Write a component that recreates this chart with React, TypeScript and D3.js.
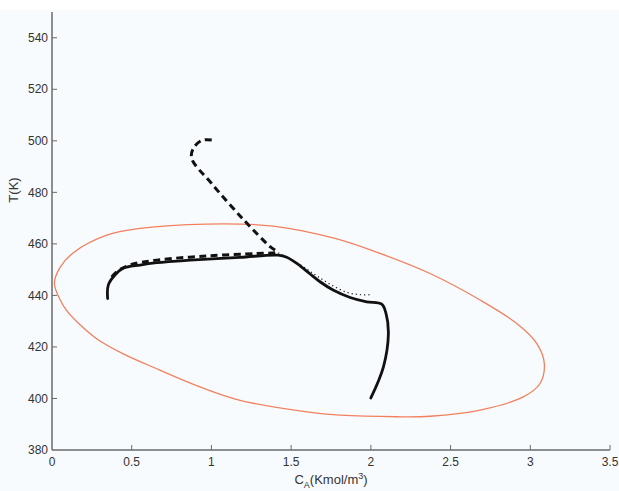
import React from "react";
import * as d3 from "d3";

const xTicks = [0, 0.5, 1, 1.5, 2, 2.5, 3, 3.5];
const yTicks = [380, 400, 420, 440, 460, 480, 500, 520, 540];

// Confidence ellipse (C_A, T) read around the outline
const ellipseC = [0.015, 0.05, 0.134, 0.343, 0.552, 0.97, 1.388, 1.775, 2.057, 2.371, 2.685, 2.915, 3.04, 3.088, 3.061, 2.956, 2.685, 2.371, 2.162, 1.806, 1.598, 1.179, 0.928, 0.677, 0.447, 0.28, 0.176, 0.092, 0.05];
const ellipseT = [444.8, 450.8, 456.6, 463.4, 466.0, 467.7, 466.9, 462.1, 456.3, 448.5, 438.2, 429.1, 421.4, 413.6, 405.8, 400.6, 395.5, 393.1, 392.9, 393.5, 394.8, 399.3, 404.5, 411.0, 417.3, 423.2, 428.6, 434.1, 438.4];

// Solid trajectory
const solidC = [2.0, 2.079, 2.11, 2.095, 2.068, 1.974, 1.87, 1.763, 1.681, 1.619, 1.556, 1.472, 1.418, 1.179, 0.866, 0.657, 0.552, 0.446, 0.395, 0.353, 0.349];
const solidT = [400.2, 412.3, 425.2, 433.0, 436.6, 437.5, 439.2, 442.1, 445.3, 448.3, 451.5, 454.8, 455.6, 454.8, 453.7, 452.7, 451.8, 450.5, 447.9, 444.0, 438.8];

// Dashed trajectory
const dashC = [1.002, 0.94, 0.887, 0.876, 1.0, 1.2, 1.368, 1.41, 1.284, 0.97, 0.657, 0.489, 0.406, 0.37];
const dashT = [500.3, 500.2, 497.1, 493.2, 483.5, 469.5, 458.9, 456.9, 456.3, 455.3, 453.7, 451.8, 449.2, 446.8];

// Dotted trajectory
const dotC = [1.42, 1.5, 1.56, 1.62, 1.68, 1.76, 1.85, 1.93, 2.0];
const dotT = [456.5, 453.8, 451.8, 449.3, 446.8, 443.8, 441.2, 440.3, 440.3];

const W = 619, H = 491;
const x0 = 52, x1 = 610, yTop = 12, yBot = 450;

export default function App() {
  const x = d3.scaleLinear().domain([0, 3.5]).range([x0, x1]);
  const y = d3.scaleLinear().domain([380, 550]).range([yBot, yTop]);

  const mk = (cs: number[], ts: number[]) => cs.map((c, i) => [c, ts[i]] as [number, number]);
  const open = d3.line<[number, number]>().x(d => x(d[0])).y(d => y(d[1])).curve(d3.curveCatmullRom.alpha(0.5));
  const closed = d3.line<[number, number]>().x(d => x(d[0])).y(d => y(d[1])).curve(d3.curveCatmullRomClosed.alpha(0.5));

  const font = "'Liberation Sans', Arial, Helvetica, sans-serif";
  const axisColor = "#6a6a6a";
  const textColor = "#333";

  return (
    <div style={{ position: "fixed", left: 0, top: 0 }}>
      <svg width={W} height={H} style={{ display: "block" }}>
        <rect x={0} y={0} width={W} height={H} fill="#f8fbfd" />
        <rect x={0} y={0} width={W} height={10} fill="#ffffff" />
        {/* ellipse */}
        <path d={closed(mk(ellipseC, ellipseT)) || ""} fill="none" stroke="#f2805f" strokeWidth={1.3} />
        {/* dotted */}
        <path d={open(mk(dotC, dotT)) || ""} fill="none" stroke="#222" strokeWidth={1.3} strokeDasharray="1.2,3" />
        {/* dashed */}
        <path d={open(mk(dashC, dashT)) || ""} fill="none" stroke="#111" strokeWidth={3} strokeDasharray="7,4.5" />
        {/* solid */}
        <path d={open(mk(solidC, solidT)) || ""} fill="none" stroke="#111" strokeWidth={2.8} strokeLinejoin="round" strokeLinecap="round" />

        {/* axes */}
        <line x1={x0} x2={x0} y1={yTop} y2={yBot} stroke={axisColor} strokeWidth={1.5} />
        <line x1={x0} x2={x1} y1={yBot} y2={yBot} stroke={axisColor} strokeWidth={1.5} />
        {yTicks.map(t => (
          <g key={"y" + t}>
            {t !== 380 && <line x1={x0} x2={x0 + 5} y1={y(t)} y2={y(t)} stroke={axisColor} strokeWidth={1} />}
            <text x={x0 - 4} y={y(t)} dy="0.35em" textAnchor="end" fontFamily={font} fontSize={12} fill={textColor}>{t}</text>
          </g>
        ))}
        {xTicks.map(t => (
          <g key={"x" + t}>
            {t !== 0 && <line x1={x(t)} x2={x(t)} y1={yBot} y2={yBot - 5} stroke={axisColor} strokeWidth={1} />}
            <text x={x(t)} y={yBot + 16} textAnchor="middle" fontFamily={font} fontSize={12} fill={textColor}>{t}</text>
          </g>
        ))}
        <text transform={`translate(18,190) rotate(-90)`} textAnchor="middle" fontFamily={font} fontSize={13} fill={textColor}>T(K)</text>
        <text x={331} y={484} textAnchor="middle" fontFamily={font} fontSize={13} fill={textColor}>
          C<tspan fontSize={9} dy={4}>A</tspan><tspan dy={-4}>(Kmol/m</tspan><tspan fontSize={9} dy={-5}>3</tspan><tspan dy={5}>)</tspan>
        </text>
      </svg>
    </div>
  );
}
